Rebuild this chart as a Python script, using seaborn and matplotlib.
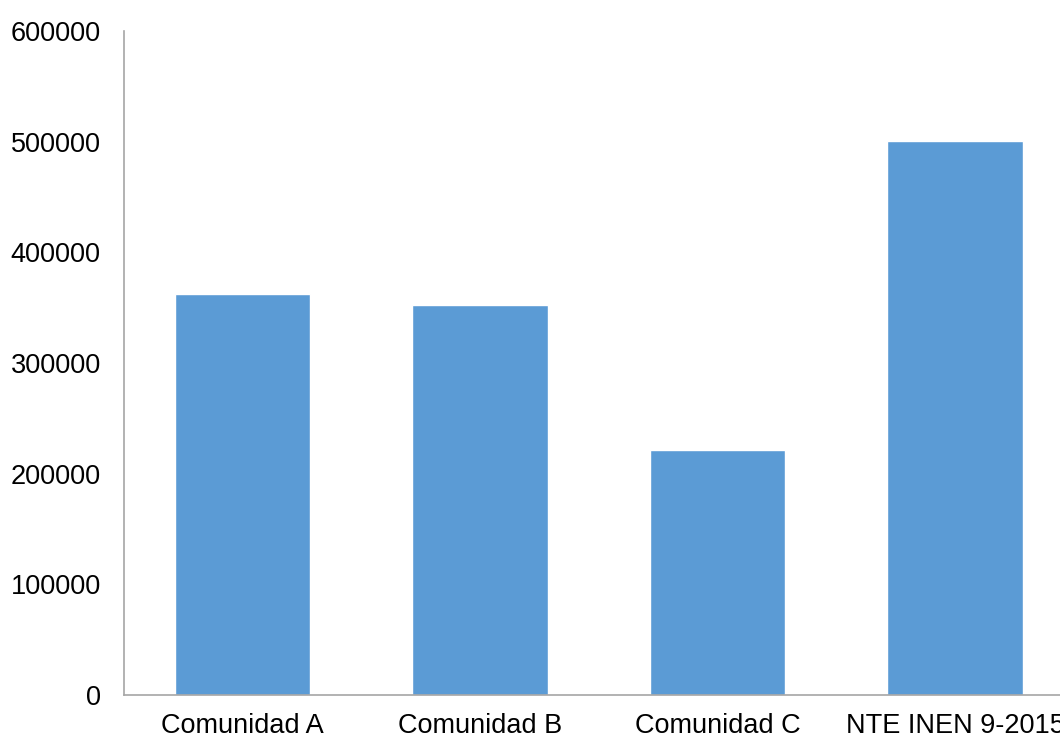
import pandas as pd
import matplotlib.pyplot as plt
import seaborn as sns

# Datos del gráfico
categorias = ["Comunidad A", "Comunidad B", "Comunidad C", "NTE INEN 9-2015"]
valores = [362500, 352500, 221500, 500500]

df = pd.DataFrame({"categoria": categorias, "valor": valores})

sns.set_style("white")
plt.rcParams["font.family"] = ["Liberation Sans", "DejaVu Sans"]

fig = plt.figure(figsize=(10.6, 7.38), dpi=100)
ax = fig.add_axes([123.75 / 1060, 43 / 738, 950 / 1060, 664 / 738])

sns.barplot(data=df, x="categoria", y="valor", color="#5B9BD5", width=0.57,
            saturation=1, ax=ax)

ax.set_xlim(-0.5, 3.5)
ax.set_ylim(0, 600000)
ax.set_yticks(range(0, 600001, 100000))
ax.set_yticklabels([str(v) for v in range(0, 600001, 100000)])
ax.set_xlabel("")
ax.set_ylabel("")
ax.tick_params(axis="both", length=0, labelsize=19.5, colors="black")
ax.tick_params(axis="y", pad=16.5)
ax.tick_params(axis="x", pad=13)

for s in ["top", "right"]:
    ax.spines[s].set_visible(False)
for s in ["left", "bottom"]:
    ax.spines[s].set_color("#A6A6A6")
    ax.spines[s].set_linewidth(1.2)

fig.savefig("out.png", dpi=100)
